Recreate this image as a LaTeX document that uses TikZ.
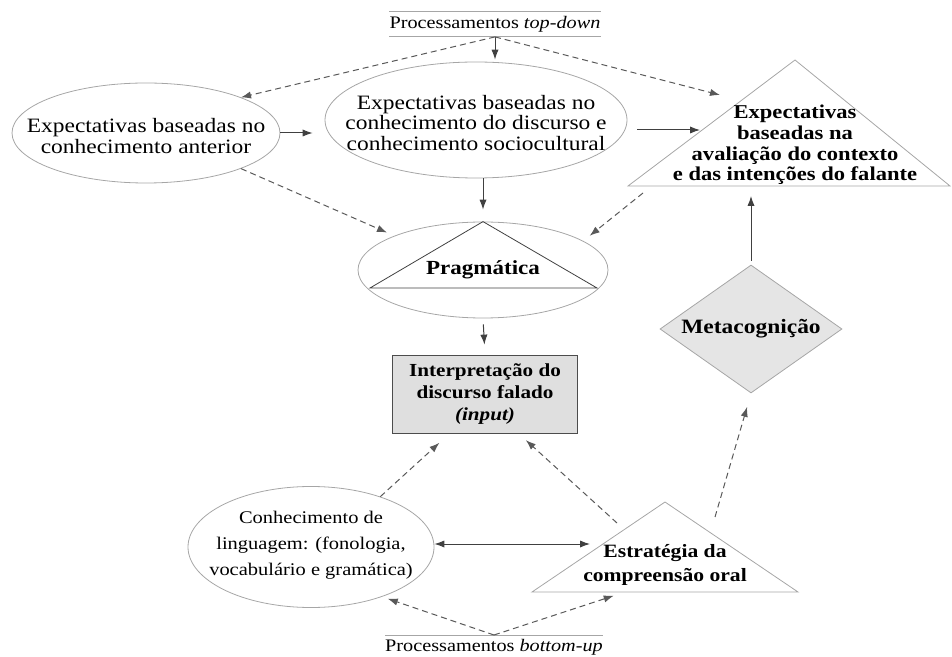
\documentclass[tikz,border=0pt]{standalone}
\usepackage{fontspec}
\setmainfont{Liberation Serif}[FakeStretch=1.15]
\usetikzlibrary{positioning,arrows.meta,calc,shapes.geometric}

\begin{document}
\begin{tikzpicture}[x=0.5pt,y=-0.5pt,>={Latex[length=5pt,width=3.6pt]},
  ell/.style={draw=gray!70,ellipse,inner sep=0pt},
  txt/.style={align=center,inner sep=0pt},
  sar/.style={->,draw=black!75,line width=0.5pt},
  dar/.style={->,draw=black!65,densely dashed,line width=0.5pt},
  rul/.style={draw=gray!70,line width=0.5pt}]
  \useasboundingbox (0,0) rectangle (952,657);
  % top-down
  \node[minimum width=100pt,minimum height=12.5pt,inner sep=0pt,font=\fontsize{8.8}{10}\selectfont] (td) at (495,24) {Processamentos \textit{top-down}};
  \draw[rul] (td.north west) -- (td.north east); \draw[rul] (td.south west) -- (td.south east);
  \node[ell,minimum width=134pt,minimum height=50pt] (ant) at (146,133) {};
  \node[txt,font=\fontsize{10.2}{10.4}\selectfont] (ant-t) at (146,136) {Expectativas baseadas no\\conhecimento anterior};
  \node[ell,minimum width=151pt,minimum height=58pt] (disc) at (476,120) {};
  \node[txt,font=\fontsize{10.2}{10.4}\selectfont] (disc-t) at (476,123) {Expectativas baseadas no\\conhecimento do discurso e\\conhecimento sociocultural};
  % context triangle
  \coordinate (ctx-t) at (795,60); \coordinate (ctx-l) at (628,186); \coordinate (ctx-r) at (950,186);
  \draw[gray!70] (ctx-t) -- (ctx-r) -- (ctx-l) -- cycle;
  \node[txt,font=\bfseries\fontsize{9.8}{10.4}\selectfont] (ctx) at (795,145) {Expectativas\\baseadas na\\avaliação do contexto\\e das intenções do falante};
  % pragmatica
  \node[ell,minimum width=125pt,minimum height=48pt,font=\bfseries\fontsize{10}{11}\selectfont] (prag) at (483,270) {Pragmática};
  \draw[black!75] (prag.north) -- (370,288) -- (597,288) -- cycle;
  \node[draw=gray!60!black,fill=gray!25,minimum width=92.5pt,minimum height=39pt,inner sep=0pt,align=center,font=\bfseries\fontsize{9.2}{11.2}\selectfont] (box) at (485,394) {Interpretação do\\discurso falado\\\textit{(input)}};
  \node[diamond,aspect=1.42,draw=gray!70,fill=gray!20,minimum width=91pt,minimum height=64pt,inner sep=0pt,font=\bfseries\fontsize{10.2}{11}\selectfont] (meta) at (751,329) {Metacognição};
  \node[ell,minimum width=123pt,minimum height=60.5pt] (lang) at (311,547) {};
  \node[txt,font=\fontsize{8.9}{13}\selectfont] (lang-t) at (311,545) {Conhecimento de\\linguagem: (fonologia,\\vocabulário e gramática)};
  % strategy triangle
  \coordinate (strat-t) at (665,502); \coordinate (strat-l) at (532,592); \coordinate (strat-r) at (798,592);
  \draw[gray!70] (strat-t) -- (strat-r) -- (strat-l) -- cycle;
  \node[txt,font=\bfseries\fontsize{9.4}{12}\selectfont] (strat) at (665,565) {Estratégia da\\compreensão oral};
  % bottom-up
  \node[anchor=north,minimum width=100pt,inner sep=0pt,inner ysep=2pt,font=\fontsize{8.8}{10}\selectfont] (bu) at (494,635) {Processamentos \textit{bottom-up}};
  \draw[rul] (bu.north west) -- (bu.north east);
  % loose ends
  \coordinate (ctx-a) at (720,95); \coordinate (ctx-w) at (700,130); \coordinate (ctx-b) at (643,193);
  \coordinate (strat-a) at (617,523); \coordinate (strat-w) at (590,544); \coordinate (strat-b) at (715,517);
  % connectors
  \draw[sar,shorten >=1pt] (td.south) -- (td.south |- disc.north);
  \draw[dar] (td.south) -- (ant.north east);
  \draw[dar] (td.south) -- (ctx-a);
  \draw[sar,shorten >=6pt] (ant.east) -- (ant.east -| disc.west);
  \draw[sar,shorten <=5pt] (disc.east |- ctx-w) -- (ctx-w);
  \draw[sar,shorten >=6pt] (disc.south -| prag.north) -- (prag.north);
  \draw[dar,shorten >=4pt] (ant.south east) -- (prag.north west);
  \draw[dar] (ctx-b) -- ([xshift=9pt]prag.north east);
  \draw[sar,shorten <=3pt,shorten >=5pt] (prag.south) -- (box.north);
  \draw[dar,shorten >=7pt] (lang.36) -- ($(box.south west)!0.31!(box.south east)$);
  \draw[dar,shorten >=5pt] (strat-a) -- ($(box.south west)!0.68!(box.south east)$);
  \draw[sar,<->] (lang.east |- strat-w) -- (strat-w);
  \draw[dar,shorten >=7pt] (strat-b) -- (meta.south);
  \draw[sar,shorten <=2pt,shorten >=5pt] (meta.north) -- (meta.north |- ctx-l);
  \draw[dar,shorten >=3pt] (bu.north) -- (lang.-35);
  \draw[dar,shorten >=6pt] (bu.north) -- ($(strat-l)!0.35!(strat-r)$);
\end{tikzpicture}
\end{document}
